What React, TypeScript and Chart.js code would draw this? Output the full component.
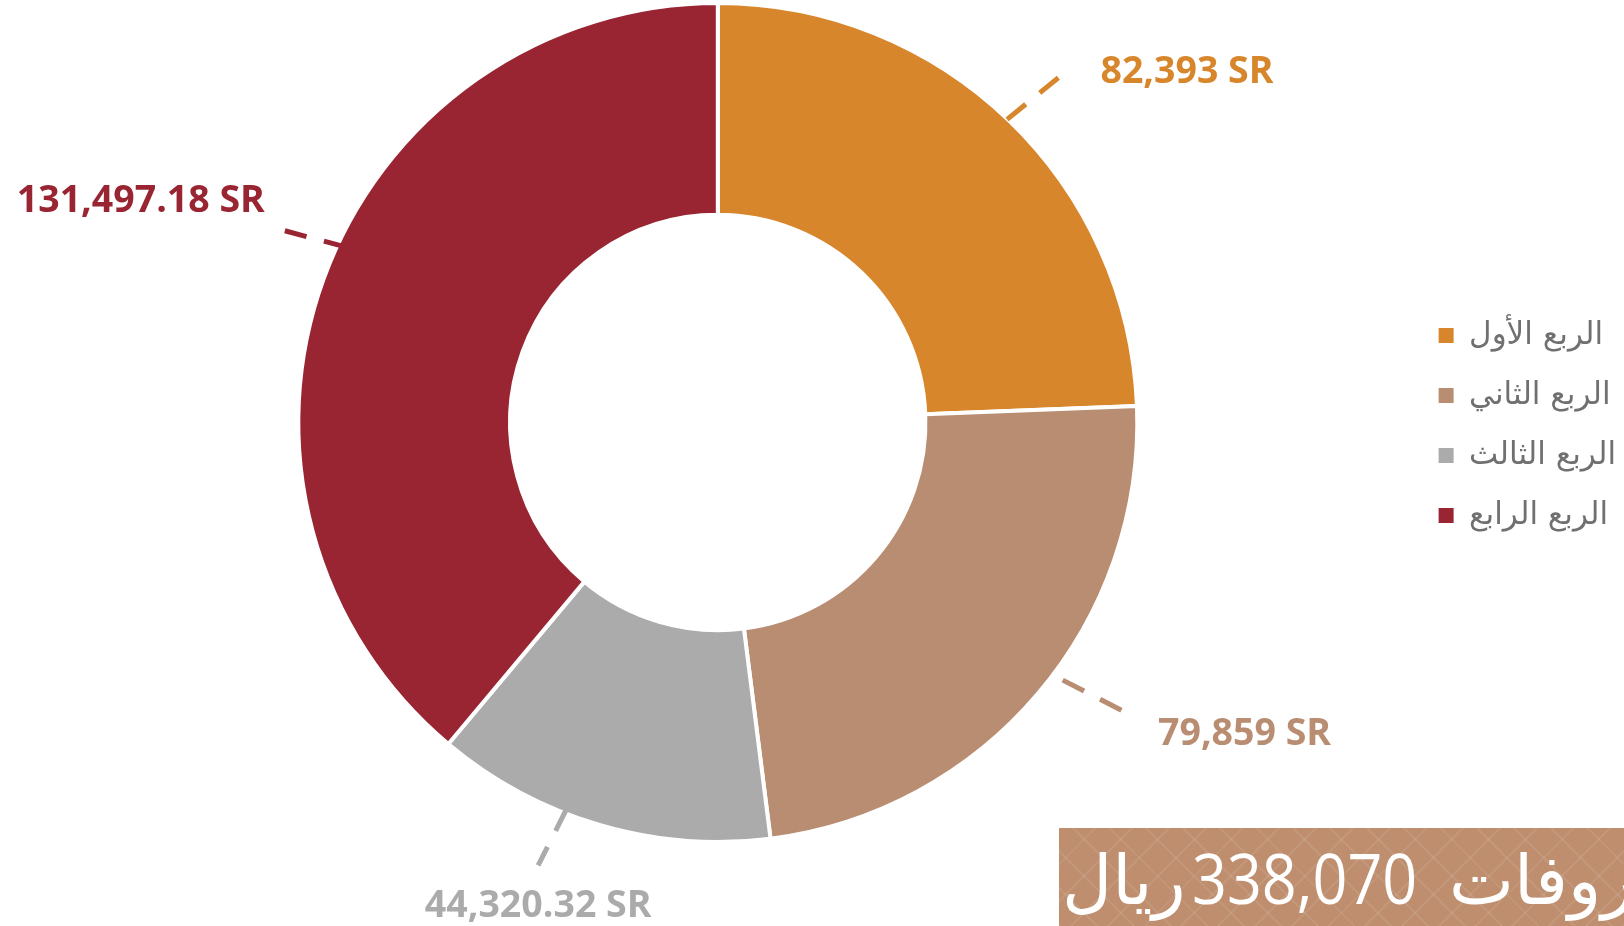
import { useEffect, useRef } from 'react';
import { Chart, registerables } from 'chart.js';

Chart.register(...registerables);

// ---- data ----
const categories = ['الربع الأول', 'الربع الثاني', 'الربع الثالث', 'الربع الرابع'];
const values = [82393, 79859, 44320.32, 131497.18];
const currencySuffix = ' SR';
const bannerPrefix = 'إجمالي المصروفات';
const bannerSuffix = 'ريال';

// ---- style ----
const colors = ['#D8862C', '#B98D72', '#ABABAB', '#992533'];
// angle offsets (deg, relative to slice mid-angle) and radial offsets (px, relative to outer edge)
const labelLayout = [
  { a0: -0.2, a1: 0.8, r0: 1.5, r1: 68.5, align: 'left', dx: 41, dy: -7 },
  { a0: -3.5, a1: -4.8, r0: 13, r1: 80, align: 'left', dx: 35, dy: 20.5 },
  { a0: 5.0, a1: 5.7, r0: -2, r1: 60.5, align: 'center', dx: 0, dy: 38 },
  { a0: 5.3, a1: 3.9, r0: -7.5, r1: 56, align: 'right', dx: -20, dy: -32.5 },
];

const fmt = (v: number) => v.toLocaleString('en-US', { maximumFractionDigits: 2 }) + currencySuffix;

const leaderPlugin = {
  id: 'leaderLabels',
  afterDatasetsDraw(chart: any) {
    const meta = chart.getDatasetMeta(0);
    const ctx = chart.ctx as CanvasRenderingContext2D;
    ctx.save();
    ctx.font = 'bold 37.5px "Open Sans"';
    const capH = ctx.measureText('0').actualBoundingBoxAscent;
    meta.data.forEach((arc: any, i: number) => {
      const p = arc.getProps(['x', 'y', 'startAngle', 'endAngle', 'outerRadius'], true);
      const lay = labelLayout[i];
      const mid = (p.startAngle + p.endAngle) / 2;
      const edge = p.outerRadius - 2;
      const ang0 = mid + (lay.a0 * Math.PI) / 180;
      const ang1 = mid + (lay.a1 * Math.PI) / 180;
      const x0 = p.x + (edge + lay.r0) * Math.cos(ang0);
      const y0 = p.y + (edge + lay.r0) * Math.sin(ang0);
      const x1 = p.x + (edge + lay.r1) * Math.cos(ang1);
      const y1 = p.y + (edge + lay.r1) * Math.sin(ang1);
      ctx.strokeStyle = colors[i];
      ctx.lineWidth = 5;
      ctx.setLineDash([24, 18]);
      ctx.beginPath();
      ctx.moveTo(x0, y0);
      ctx.lineTo(x1, y1);
      ctx.stroke();
      ctx.setLineDash([]);
      ctx.fillStyle = colors[i];
      ctx.textAlign = lay.align as CanvasTextAlign;
      ctx.textBaseline = 'alphabetic';
      ctx.fillText(fmt(values[i]), x1 + lay.dx, y1 + lay.dy + capH / 2);
    });
    ctx.restore();
  },
};

export default function App() {
  const canvasRef = useRef<HTMLCanvasElement | null>(null);

  useEffect(() => {
    if (!canvasRef.current) return;
    const chart = new Chart(canvasRef.current, {
      type: 'doughnut',
      data: {
        labels: categories,
        datasets: [
          {
            data: values,
            backgroundColor: colors,
            borderColor: '#FFFFFF',
            borderWidth: 4,
          },
        ],
      },
      options: {
        animation: false,
        responsive: true,
        maintainAspectRatio: false,
        cutout: '49.5%',
        layout: { padding: { top: 1, bottom: 82, left: 26, right: -2 } },
        plugins: {
          tooltip: { enabled: false },
          legend: {
            position: 'right',
            title: { display: true, text: ' ', padding: 0, font: { size: 5 } },
            labels: {
              font: { family: '"DejaVu Sans"', size: 31 },
              color: '#707070',
              boxWidth: 15,
              boxHeight: 15,
              padding: 29,
              generateLabels: (c: any) => {
                const base = (Chart as any).overrides.doughnut.plugins.legend.labels.generateLabels(c);
                return base.map((l: any) => ({ ...l, lineWidth: 0, strokeStyle: 'rgba(0,0,0,0)' }));
              },
            },
          },
        },
      },
      plugins: [leaderPlugin],
    });
    return () => chart.destroy();
  }, []);

  const total = Math.round(values.reduce((s, v) => s + v, 0)).toLocaleString('en-US');

  return (
    <div style={{ position: 'fixed', left: 0, top: 0, width: 1624, height: 926, background: '#FFFFFF', overflow: 'hidden' }}>
      <canvas ref={canvasRef} />
      <div
        style={{
          position: 'absolute',
          left: 1059,
          top: 828,
          width: 565,
          height: 98,
          overflow: 'hidden',
          backgroundColor: '#BE8E6E',
          backgroundImage:
            'repeating-linear-gradient(45deg, rgba(255,255,255,0.08) 0px, rgba(255,255,255,0.08) 2px, rgba(0,0,0,0) 2px, rgba(0,0,0,0) 26px), repeating-linear-gradient(-45deg, rgba(255,255,255,0.08) 0px, rgba(255,255,255,0.08) 2px, rgba(0,0,0,0) 2px, rgba(0,0,0,0) 26px)',
        }}
      >
        <div
          style={{
            position: 'absolute',
            left: 3,
            top: 0,
            lineHeight: '98px',
            whiteSpace: 'nowrap',
            color: '#FFFFFF',
            fontFamily: '"Open Sans", "DejaVu Sans", sans-serif',
            fontSize: 69,
            direction: 'ltr',
          }}
        >
          <span dir="rtl" style={{ unicodeBidi: 'isolate' }}>{bannerSuffix}</span>
          <span
            style={{
              display: 'inline-block',
              fontSize: 70,
              transform: 'scaleX(0.872)',
              transformOrigin: 'left center',
              marginLeft: 6,
              marginRight: -1,
            }}
          >
            {total}
          </span>
          <span dir="rtl" style={{ unicodeBidi: 'isolate' }}>{bannerPrefix}</span>
        </div>
      </div>
    </div>
  );
}
